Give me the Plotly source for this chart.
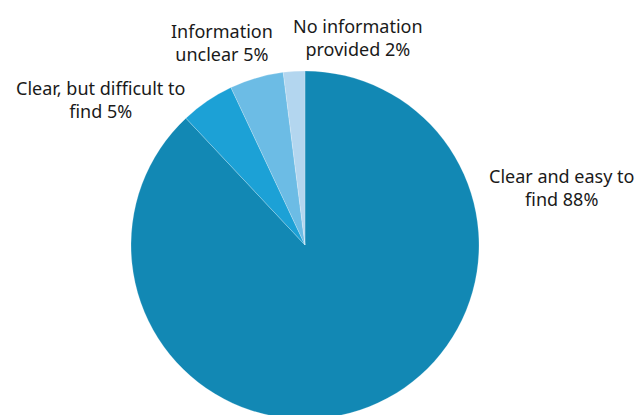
import plotly.graph_objects as go

# Survey responses: how easy it was to find the information
categories = ["Clear and easy to find", "Clear, but difficult to find",
              "Information unclear", "No information provided"]
values = [88, 5, 5, 2]
label_lines = [("Clear and easy to", "find"), ("Clear, but difficult to", "find"),
               ("Information", "unclear"), ("No information", "provided")]
colors = ["#1288b4", "#1ca1d6", "#6cbce5", "#b3d6ef"]

W, H = 638, 430

fig = go.Figure(go.Pie(
    labels=categories,
    values=values,
    sort=False,
    direction="clockwise",
    rotation=0,
    textinfo="none",
    hoverinfo="label+percent",
    marker=dict(colors=colors, line=dict(color="rgba(255,255,255,0.35)", width=0.6)),
    domain=dict(x=[131 / W, 479 / W], y=[11 / H, 359 / H]),
    showlegend=False,
))

# label anchor points (pixel centre of each two-line label)
label_pos = [(561, 187), (100, 100), (222, 42), (358, 38)]
for (l1, l2), v, (px, py) in zip(label_lines, values, label_pos):
    fig.add_annotation(
        x=px / W, y=1 - py / H, xref="paper", yref="paper",
        text=f"{l1}<br>{l2} {v}%", showarrow=False, align="center",
        font=dict(family="Noto Sans", size=18, color="#1a1a1a"),
        xanchor="center", yanchor="middle",
    )

fig.update_layout(
    width=W, height=H,
    margin=dict(l=0, r=0, t=0, b=0),
    paper_bgcolor="white", plot_bgcolor="white",
)

fig.write_html("out.html", post_script="document.body.style.overflow='hidden';")
